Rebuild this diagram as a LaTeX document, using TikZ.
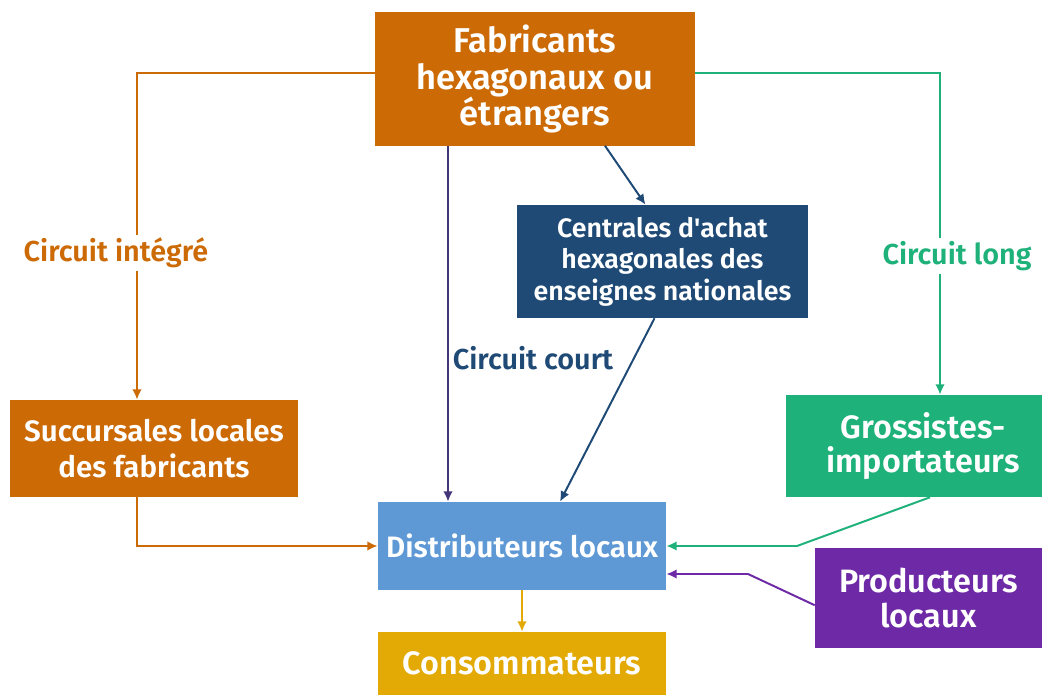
\documentclass[tikz,border=0pt]{standalone}
\usepackage{fontspec}
\setmainfont{Fira Sans}[BoldFont={Fira Sans SemiBold}]
\usepackage{tikz}
\usetikzlibrary{arrows.meta,positioning}
\definecolor{orange}{HTML}{CC6A06}
\definecolor{navy}{HTML}{1F4A76}
\definecolor{court}{HTML}{45367A}
\definecolor{green}{HTML}{1EB27A}
\definecolor{lblue}{HTML}{5E99D6}
\definecolor{purple}{HTML}{6E2AA6}
\definecolor{yellow}{HTML}{E3AA05}
\tikzset{
  box/.style={rectangle, inner sep=0pt, align=center, text=white, font=\bfseries\fontsize{21}{25}\selectfont},
  bigbox/.style={box, font=\bfseries\fontsize{23}{24.5}\selectfont},
  flow/.style={line width=1.4pt, -{Latex[length=2.6mm,width=2.4mm]}},
  lbl/.style={fill=white, inner sep=2pt, font=\bfseries\fontsize{20.5}{24}\selectfont}
}

\begin{document}
\begin{tikzpicture}[x=0.025cm, y=-0.025cm]
  \useasboundingbox (0,0) rectangle (1042,695);

  % Define nodes
  \node[box, fill=orange, minimum width=8cm, minimum height=3.325cm, font=\bfseries\fontsize{24.5}{26}\selectfont] (Fab) at (535,79) {Fabricants\\hexagonaux ou\\étrangers};
  \node[box, fill=navy, minimum width=7.275cm, minimum height=2.825cm, font=\bfseries\fontsize{19}{22.5}\selectfont] (Cent) at (662.5,261.5) {Centrales d\textquotesingle achat\\hexagonales des\\enseignes nationales};
  \node[box, fill=orange, minimum width=7.2cm, minimum height=2.425cm] (Succ) at (154,448.5) {Succursales locales\\des fabricants};
  \node[bigbox, fill=green, minimum width=6.4cm, minimum height=2.55cm] (Gros) at (914,446) {\hspace*{0.45cm}Grossistes-\\\hspace*{0.45cm}importateurs};
  \node[box, fill=lblue, minimum width=7.2cm, minimum height=2.2cm] (Dist) at (522,546) {Distributeurs locaux};
  \node[bigbox, fill=purple, minimum width=5.675cm, minimum height=2.5cm] (Prod) at (928.5,598) {Producteurs\\locaux};
  \node[bigbox, fill=yellow, minimum width=7.2cm, minimum height=1.575cm] (Cons) at (522,663.5) {Consommateurs};

  % Connect the nodes
  \draw[flow, orange] ([yshift=0.14cm]Fab.west) -| ([xshift=-0.425cm]Succ.north);
  \draw[flow, orange] ([xshift=-0.425cm]Succ.south) |- (Dist.west);
  \draw[flow, court] (Fab.south -| 448,0) -- (Dist.north -| 448,0);
  \draw[flow, navy] ([xshift=1.75cm]Fab.south) -- ([xshift=-0.425cm]Cent.north);
  \draw[flow, navy] ([xshift=-0.2cm]Cent.south) -- ([xshift=0.95cm]Dist.north);
  \draw[flow, green] ([yshift=0.14cm]Fab.east) -| ([xshift=0.65cm]Gros.north);
  \draw[flow, green] ([xshift=0.4cm]Gros.south) -- (797,546) -- (Dist.east);
  \draw[flow, purple] ([yshift=-0.18cm]Prod.west) -- (748,574) -- ([yshift=-0.7cm]Dist.east);
  \draw[flow, yellow] (Dist.south) -- (Cons.north);

  % Labels
  \node[lbl, text=orange] (integre) at (116,253) {Circuit intégré};
  \node[lbl, text=navy] (court) at (533,358) {Circuit court};
  \node[lbl, text=green] (long) at (957,256) {Circuit long};

\end{tikzpicture}
\end{document}
